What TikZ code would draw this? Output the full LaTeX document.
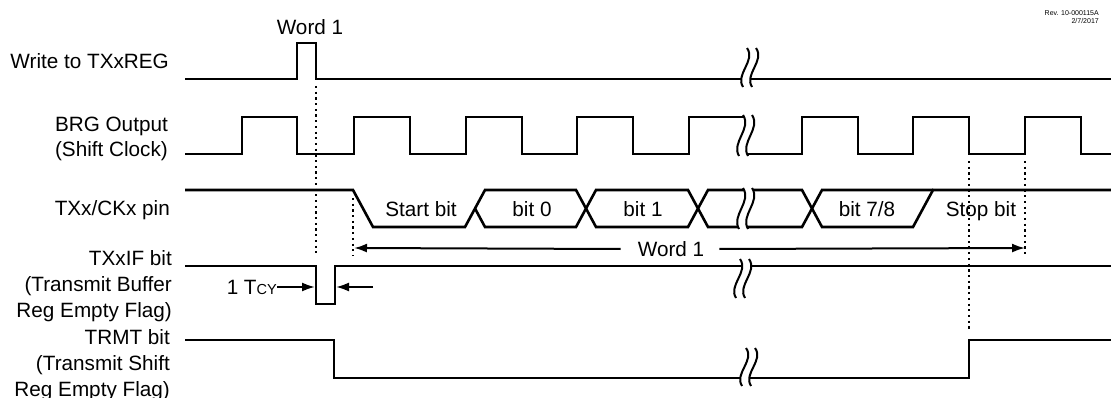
\documentclass[tikz,border=0pt]{standalone}
\usepackage{fontspec}
\setmainfont{Liberation Sans}
\usetikzlibrary{arrows.meta}

\tikzset{
  sigline/.style={line width=2.6pt, line join=miter},
  dotline/.style={line width=2.2pt, dash pattern=on 2.2pt off 3.5pt},
  dimarrow/.style={line width=2pt, -{Latex[length=13pt,width=9pt]}},
  siglabel/.style={font=\fontsize{20.7}{25.8}\selectfont, align=right, anchor=base east, inner sep=0pt},
  bitlabel/.style={font=\fontsize{20.7}{24}\selectfont, anchor=base, inner sep=0pt},
}

% break mark: two wavy lines, white between them
\newcommand{\wavebreak}[3]{%
  \fill[white] (#1,#2) .. controls ({#1+9},{#2+0.33*(#3-#2)}) and ({#1-12},{#2+0.67*(#3-#2)}) .. ({#1-4},#3)
    -- ({#1+5},#3) .. controls ({#1-3},{#2+0.67*(#3-#2)}) and ({#1+18},{#2+0.33*(#3-#2)}) .. ({#1+9},#2) -- cycle;
  \draw[line width=2pt] (#1,#2) .. controls ({#1+9},{#2+0.33*(#3-#2)}) and ({#1-12},{#2+0.67*(#3-#2)}) .. ({#1-4},#3)
    ({#1+9},#2) .. controls ({#1+18},{#2+0.33*(#3-#2)}) and ({#1-3},{#2+0.67*(#3-#2)}) .. ({#1+5},#3);
}

\begin{document}
\begin{tikzpicture}[x=1pt,y=-1pt]
		\useasboundingbox (0,0) rectangle (1111,398);

		% Signal names (anchored at the last line)
		\node[siglabel] (lblwrite) at (169,69) {Write to TXxREG};
		\node[siglabel] (lblbrg) at (168,157) {BRG Output\\(Shift Clock)};
		\node[siglabel] (lblpin) at (170,216) {TXx/CKx pin};
		\node[siglabel] (lbltxif) at (172,317) {TXxIF bit\\(Transmit Buffer\\Reg Empty Flag)};
		\node[siglabel] (lbltrmt) at (170,396) {TRMT bit\\(Transmit Shift\\Reg Empty Flag)};

		% Revision note
		\node[font=\fontsize{7}{8.5}\selectfont, align=right, anchor=base east, inner sep=0pt] (rev) at (1099,24) {Rev. 10-000115A\\2/7/2017};

		% Write to TXxREG
		\draw[sigline] (185,79) -- (297,79) -- (297,43) -- (316,43) -- (316,79) -- (1111,79);
		\node[bitlabel] (wordtop) at (310,35) {Word 1};

		% BRG output
		\draw[sigline] (185,154) -- (242,154) -- (242,117) -- (297,117) -- (297,154) -- (354,154) -- (354,117)
			-- (410,117) -- (410,154) -- (466,154) -- (466,117) -- (522,117) -- (522,154) -- (577,154) -- (577,117)
			-- (633,117) -- (633,154) -- (689,154) -- (689,117) -- (748,117);
		\draw[sigline] (745,154) -- (802,154) -- (802,117) -- (858,117) -- (858,154) -- (913,154) -- (913,117)
			-- (969,117) -- (969,154) -- (1025,154) -- (1025,117) -- (1081,117) -- (1081,154) -- (1111,154);

		% TXx/CKx pin
		\draw[sigline] (185,190) -- (353,190) -- (373,227) -- (465,227) -- (485,190) -- (576,190) -- (596,227)
			-- (688,227) -- (708,190) -- (802,190) -- (822,227) -- (913,227) -- (933,190) -- (1111,190);
		\draw[sigline] (475,208.5) -- (485,227) -- (576,227) -- (596,190) -- (688,190) -- (708,227) -- (802,227)
			-- (822,190) -- (933,190);
		\node[bitlabel] (startbit) at (421,217) {Start bit};
		\node[bitlabel] (bitzero) at (532,217) {bit 0};
		\node[bitlabel] (bitone) at (643,217) {bit 1};
		\node[bitlabel] (bitseven) at (867,217) {bit 7/8};
		\node[bitlabel] (stopbit) at (981,217) {Stop bit};

		% TXxIF bit
		\draw[sigline] (185,266) -- (316,266) -- (316,304) -- (335,304) -- (335,266) -- (1111,266);

		% TRMT bit
		\draw[sigline] (185,340) -- (334,340) -- (334,378) -- (969,378) -- (969,340) -- (1111,340);

		% Breaks
		\wavebreak{747}{48}{87}
		\wavebreak{743}{115}{156}
		\wavebreak{743}{188}{229}
		\wavebreak{740}{259}{298}
		\wavebreak{746}{348}{386}

		% Dotted markers
		\draw[dotline] (316,86) -- (316,253);
		\draw[dotline] (353,198) -- (353,256);
		\draw[dotline] (969,161) -- (969,330);
		\draw[dotline] (1025,161) -- (1025,256);

		% Word 1 span
		\coordinate (wstart) at (354,248);
		\coordinate (wend) at (1025,248);
		\node[font=\fontsize{20.7}{24}\selectfont, inner sep=0pt] (wordmid) at (671,249) {Word 1};
		\draw[dimarrow] ([xshift=-17pt]wordmid.west) -- (wstart);
		\draw[dimarrow] ([xshift=15pt]wordmid.east) -- (wend);

		% 1 Tcy
		\node[font=\fontsize{20.7}{24}\selectfont, anchor=east, inner sep=0pt] (tcy) at (277,287) {1 T{\fontsize{14.5}{14}\selectfont CY}};
		\coordinate (tcyl) at (315,287);
		\coordinate (tcyr) at (336,287);
		\coordinate (tcyend) at (373,287);
		\draw[dimarrow] (tcy.east) -- (tcyl);
		\draw[dimarrow] (tcyend) -- (tcyr);

	\end{tikzpicture}
\end{document}
